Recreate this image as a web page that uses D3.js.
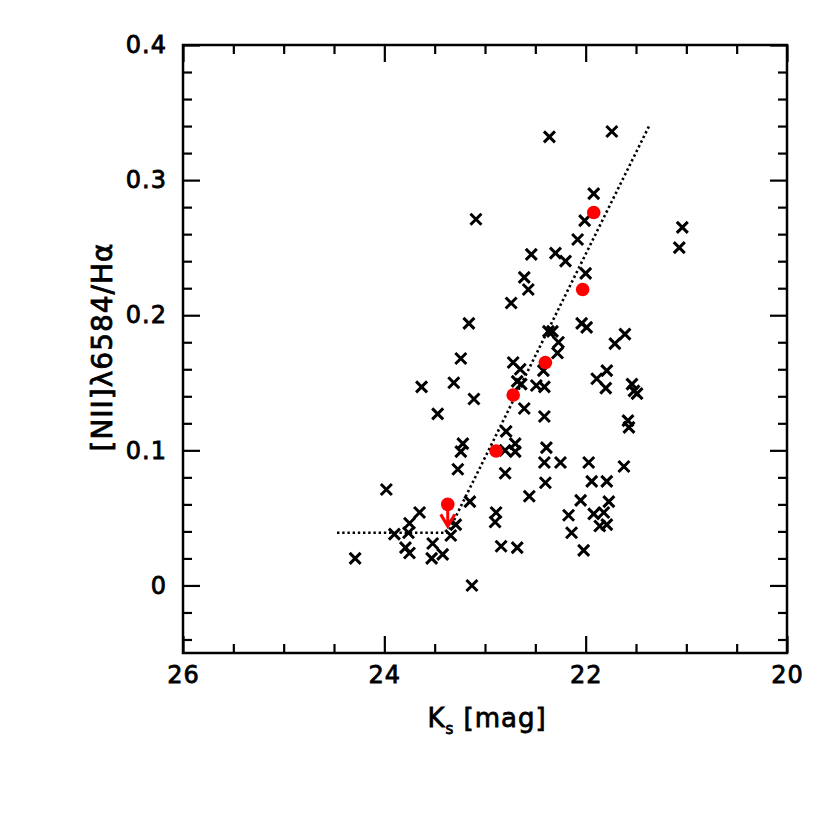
<!DOCTYPE html>
<html>
<head>
<meta charset="utf-8">
<script src="https://cdn.jsdelivr.net/npm/d3@7/dist/d3.min.js"></script>
<style>
  body { margin: 0; background: #fff; }
  svg text { font-family: "DejaVu Sans", sans-serif; fill: #000; stroke: #000; stroke-width: 0.8px; }
</style>
</head>
<body>
<svg width="830" height="830"></svg>
<script>
// individual galaxies (black crosses)
var crossKs = [22.36, 21.74, 23.09, 21.04, 21.07, 21.92, 22.01, 22.08, 22.54, 22.30,
               22.20, 22.00, 22.61, 22.57, 22.74, 23.16, 22.04, 21.99, 22.37, 22.33,
               21.61, 22.27, 21.71, 22.28, 23.24, 22.72, 22.65, 22.42, 21.79, 21.89,
               22.68, 22.64, 23.31, 23.63, 22.49, 22.41, 21.80, 21.54, 21.52, 21.49,
               23.11, 22.61, 23.47, 22.41, 21.58, 21.57, 22.79, 23.22, 23.24, 22.80,
               22.70, 22.70, 22.39, 22.41, 22.25, 21.97, 21.62, 23.27, 22.80, 22.40,
               21.94, 21.79, 23.98, 22.56, 22.05, 21.77, 23.15, 22.89, 22.90, 23.65,
               23.75, 23.29, 23.90, 23.76, 23.34, 23.79, 23.75, 23.52, 23.53, 23.42,
               24.29, 22.84, 22.68, 23.13, 22.17, 21.92, 21.82, 21.86, 21.79, 22.14,
               22.02];
var crossRatio = [0.332, 0.336, 0.271, 0.265, 0.250, 0.290, 0.270, 0.256, 0.245, 0.246,
                  0.240, 0.231, 0.228, 0.219, 0.209, 0.194, 0.194, 0.191, 0.188, 0.188,
                  0.186, 0.180, 0.179, 0.172, 0.168, 0.165, 0.160, 0.159, 0.159, 0.153,
                  0.151, 0.149, 0.150, 0.147, 0.148, 0.147, 0.146, 0.149, 0.144, 0.142,
                  0.138, 0.131, 0.127, 0.125, 0.122, 0.117, 0.114, 0.105, 0.099, 0.100,
                  0.105, 0.099, 0.102, 0.091, 0.091, 0.091, 0.088, 0.086, 0.083, 0.076,
                  0.077, 0.077, 0.071, 0.066, 0.063, 0.062, 0.062, 0.054, 0.047, 0.054,
                  0.046, 0.045, 0.038, 0.039, 0.037, 0.028, 0.024, 0.031, 0.020, 0.023,
                  0.020, 0.029, 0.028, 0.000, 0.052, 0.053, 0.054, 0.044, 0.045, 0.039,
                  0.026];

// stacked / binned values (red dots), first one is an upper limit
var stackKs = [23.37, 22.89, 22.72, 22.40, 22.03, 21.92];
var stackRatio = [0.060, 0.0995, 0.141, 0.165, 0.219, 0.276];
var stackUpper = [true, false, false, false, false, false];

// dotted relation
var fitKs = [24.47, 23.37, 21.37];
var fitRatio = [0.039, 0.039, 0.340];

var xMajor = [26, 24, 22, 20];
var yMajor = [0, 0.1, 0.2, 0.3, 0.4];

var svg = d3.select("svg"),
    margin = {top: 45, right: 43, bottom: 177, left: 183},
    width = +svg.attr("width") - (margin.left + margin.right),
    height = +svg.attr("height") - (margin.top + margin.bottom);

var x = d3.scaleLinear().domain([26, 20]).range([0, width]),
    y = d3.scaleLinear().domain([-0.05, 0.4]).range([height, 0]);

var g = svg.append("g").attr("transform", "translate(" + margin.left + "," + margin.top + ")");

var xMinor = d3.range(26, 19.99, -0.5).filter(function(d) { return xMajor.indexOf(d) < 0; });
var yMinor = d3.range(-0.04, 0.4, 0.02).map(function(d) { return +d.toFixed(2); })
    .filter(function(d) { return Math.abs(d * 10 - Math.round(d * 10)) > 1e-6; });

function yFmt(d) { return d === 0 ? "0" : d.toFixed(1); }

function styleAxis(sel, labels) {
    sel.select(".domain").remove();
    sel.selectAll(".tick line").attr("stroke", "#000").attr("stroke-width", 2.2);
    sel.selectAll("text").style("font-size", "24px").style("letter-spacing", "1px");
    if (!labels) sel.selectAll("text").remove();
}

// major + minor ticks on all four sides, pointing inward
g.append("g").attr("transform", "translate(0," + height + ")")
    .call(d3.axisBottom(x).tickValues(xMajor).tickFormat(d3.format("d")).tickSize(-17).tickPadding(13))
    .call(styleAxis, true);
g.append("g").attr("transform", "translate(0," + height + ")")
    .call(d3.axisBottom(x).tickValues(xMinor).tickSize(-9)).call(styleAxis, false);
g.append("g")
    .call(d3.axisTop(x).tickValues(xMajor).tickSize(-17)).call(styleAxis, false);
g.append("g")
    .call(d3.axisTop(x).tickValues(xMinor).tickSize(-9)).call(styleAxis, false);

g.append("g")
    .call(d3.axisLeft(y).tickValues(yMajor).tickFormat(yFmt).tickSize(-17).tickPadding(16))
    .call(styleAxis, true);
g.append("g")
    .call(d3.axisLeft(y).tickValues(yMinor).tickSize(-9)).call(styleAxis, false);
g.append("g").attr("transform", "translate(" + width + ",0)")
    .call(d3.axisRight(y).tickValues(yMajor).tickSize(-17)).call(styleAxis, false);
g.append("g").attr("transform", "translate(" + width + ",0)")
    .call(d3.axisRight(y).tickValues(yMinor).tickSize(-9)).call(styleAxis, false);

g.append("rect")
    .attr("width", width)
    .attr("height", height)
    .attr("fill", "none")
    .attr("stroke", "#000")
    .attr("stroke-width", 2.5);

// dotted line
var line = d3.line()
    .x(function(d) { return x(d[0]); })
    .y(function(d) { return y(d[1]); });

g.append("path")
    .datum(d3.zip(fitKs, fitRatio))
    .attr("d", line)
    .attr("fill", "none")
    .attr("stroke", "#000")
    .attr("stroke-width", 2.6)
    .attr("stroke-dasharray", "2.4,2.8");

// crosses
g.selectAll(".cross")
    .data(d3.zip(crossKs, crossRatio))
    .enter().append("path")
    .attr("class", "cross")
    .attr("transform", function(d) { return "translate(" + x(d[0]) + "," + y(d[1]) + ")"; })
    .attr("d", "M-5.5,-5.5L5.5,5.5M-5.5,5.5L5.5,-5.5")
    .attr("stroke", "#000")
    .attr("stroke-width", 3)
    .attr("fill", "none");

// red stacked points
var stacks = d3.zip(stackKs, stackRatio, stackUpper);

g.selectAll(".stack")
    .data(stacks)
    .enter().append("circle")
    .attr("class", "stack")
    .attr("cx", function(d) { return x(d[0]); })
    .attr("cy", function(d) { return y(d[1]); })
    .attr("r", 6.8)
    .attr("fill", "#ff0000");

g.selectAll(".limit")
    .data(stacks.filter(function(d) { return d[2]; }))
    .enter().append("path")
    .attr("class", "limit")
    .attr("transform", function(d) { return "translate(" + x(d[0]) + "," + y(d[1]) + ")"; })
    .attr("d", "M0,0L0,22M-7,10L0,22L7,10")
    .attr("stroke", "#ff0000")
    .attr("stroke-width", 3)
    .attr("fill", "none");

// axis titles
var xt = svg.append("text")
    .attr("x", margin.left + width / 2 + 2)
    .attr("y", 727)
    .attr("text-anchor", "middle")
    .style("font-size", "26px")
    .style("letter-spacing", "1px");
xt.append("tspan").text("K");
xt.append("tspan").attr("dy", 7).style("font-size", "15px").text("s");
xt.append("tspan").attr("dy", -7).text(" [mag]");

svg.append("text")
    .attr("transform", "translate(112,347) rotate(-90)")
    .attr("text-anchor", "middle")
    .style("font-size", "28px")
    .style("letter-spacing", "1px")
    .text("[NII]λ6584/Hα");
</script>
</body>
</html>
